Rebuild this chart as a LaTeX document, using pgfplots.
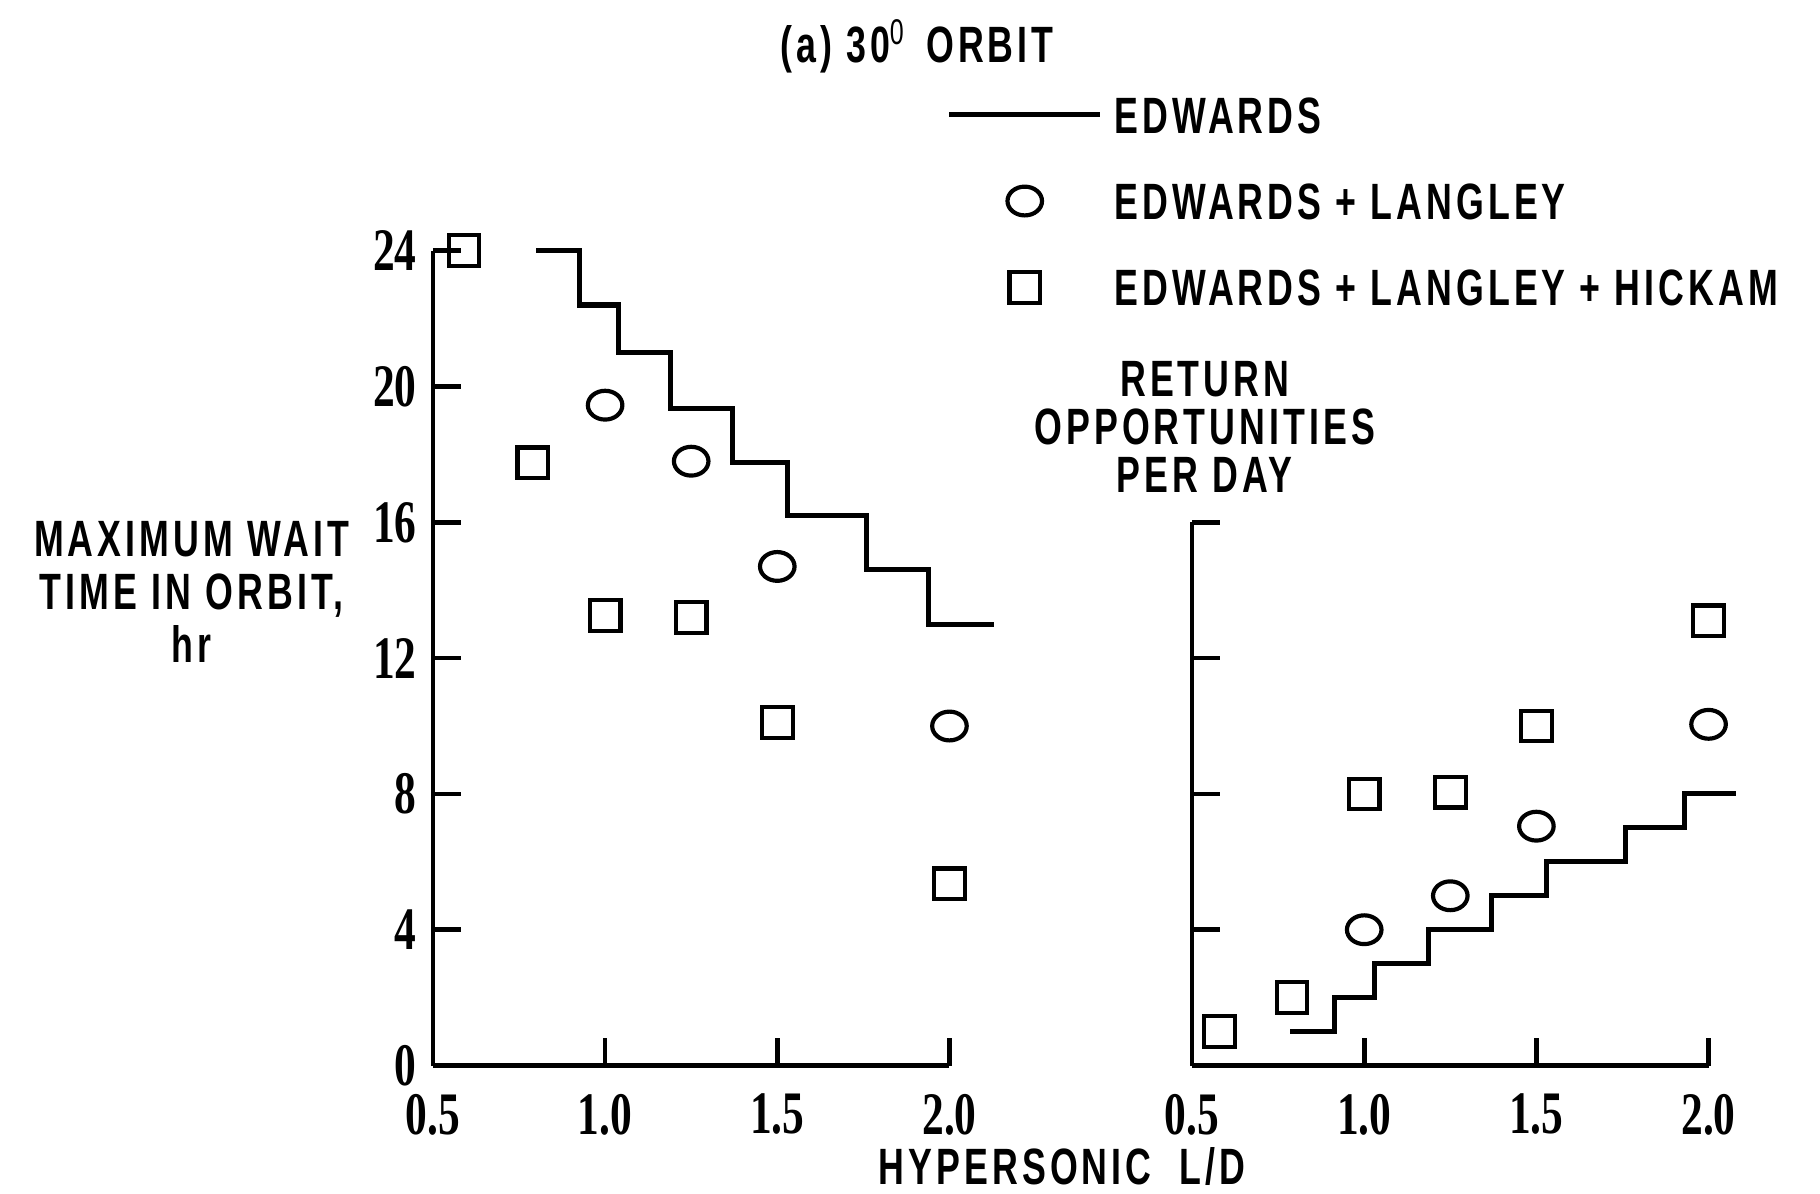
\documentclass[border=0pt]{standalone}
\usepackage{fontspec}
\setmainfont{Liberation Sans}[FakeStretch=0.70, LetterSpace=8]
\newfontfamily\tickfont{Liberation Serif}[FakeStretch=0.72]
\usepackage{pgfplots}
\pgfplotsset{compat=1.18}
\newcommand{\lbl}{\fontsize{11}{12}\selectfont\bfseries}

\begin{document}
\begin{tikzpicture}
\useasboundingbox (0,0) rectangle (392pt,257pt);
\pgfplotsset{
  panel/.style={
    scale only axis, width=111.25pt,
    axis lines*=left,
    xmin=0.5, xmax=2.0, ymin=0,
    xtick={0.5,1,1.5,2}, xticklabels={0.5,1.0,1.5,2.0},
    tick align=inside, major tick length=6pt,
    every tick/.style={line width=1pt, black},
    axis line style={line width=1pt},
    tick label style={font=\tickfont\bfseries\fontsize{13}{13}\selectfont},
    xticklabel style={yshift=-2.6pt},
    /pgf/number format/assume math mode=true,
    clip=false,
    anchor=south west,
  },
  edw/.style={black, line width=1.1pt, const plot mark left, no marks},
  cir/.style={black, only marks, mark=o, mark size=3.1pt, mark options={line width=0.9pt, xscale=1.2}},
  sqr/.style={black, only marks, mark=square, mark size=3.3pt, mark options={line width=0.9pt}},
}

% left panel
\begin{axis}[panel, at={(93.25pt,27.5pt)}, height=175.5pt, ymax=24,
  ytick={0,4,8,12,16,20,24}, yticklabels={0,4,8,12,16,20,24},
  legend style={draw=none, fill=none, at={(0.993,1.1906)}, anchor=north west,
    font=\lbl, row sep=10.7pt, column sep=2.5pt, inner sep=0pt,
    nodes={inner sep=0pt, text height=7.9pt, text depth=0pt}},
  legend cell align=left]
\addplot[edw, legend image code/.code={\draw[line width=1.1pt] (0pt,0pt) -- (32.5pt,0pt);}]
  coordinates {(0.80,24) (0.925,22.4) (1.04,21.0) (1.19,19.35) (1.37,17.75) (1.53,16.2) (1.76,14.6) (1.94,13.0) (2.13,13.0)};
\addlegendentry{EDWARDS}
\addplot[cir, legend image code/.code={\draw[only marks, mark=o, mark size=3.1pt, mark options={line width=0.9pt, xscale=1.2}] plot coordinates {(16.25pt,0pt)};}]
  coordinates {(1.0,19.45) (1.25,17.8) (1.5,14.7) (2.0,10.0)};
\addlegendentry{EDWARDS + LANGLEY}
\addplot[sqr, legend image code/.code={\draw[only marks, mark=square, mark size=3.3pt, mark options={line width=0.9pt}] plot coordinates {(16.25pt,0pt)};}]
  coordinates {(0.59,24.0) (0.79,17.75) (1.0,13.25) (1.25,13.2) (1.5,10.1) (2.0,5.35)};
\addlegendentry{EDWARDS + LANGLEY + HICKAM}
\end{axis}

% right panel
\begin{axis}[panel, at={(256.75pt,27.5pt)}, height=117pt, ymax=16,
  ytick={0,4,8,12,16}, yticklabels={}]
\addplot[edw] coordinates {(0.785,1) (0.913,2) (1.03,3) (1.186,4) (1.37,5) (1.53,6) (1.76,7) (1.93,8) (2.08,8)};
\addplot[cir] coordinates {(1.0,4.0) (1.25,5.0) (1.5,7.05) (2.0,10.05)};
\addplot[sqr] coordinates {(0.58,1.0) (0.79,2.0) (1.0,8.0) (1.25,8.05) (1.5,10.0) (2.0,13.1)};
\end{axis}

\node[font=\lbl] at (197.5pt,247pt) {(a) 30$^{\mathrm{0}}$ ORBIT};
\node[font=\fontsize{11}{11.5}\selectfont\bfseries, align=center] at (41.25pt,129.5pt) {MAXIMUM WAIT\\TIME IN ORBIT,\\hr};
\node[font=\fontsize{11}{10.4}\selectfont\bfseries, align=center] at (259.5pt,165pt) {RETURN\\OPPORTUNITIES\\PER DAY};
\node[font=\lbl] at (228.75pt,5.75pt) {HYPERSONIC\ \ L/D};
\end{tikzpicture}
\end{document}
